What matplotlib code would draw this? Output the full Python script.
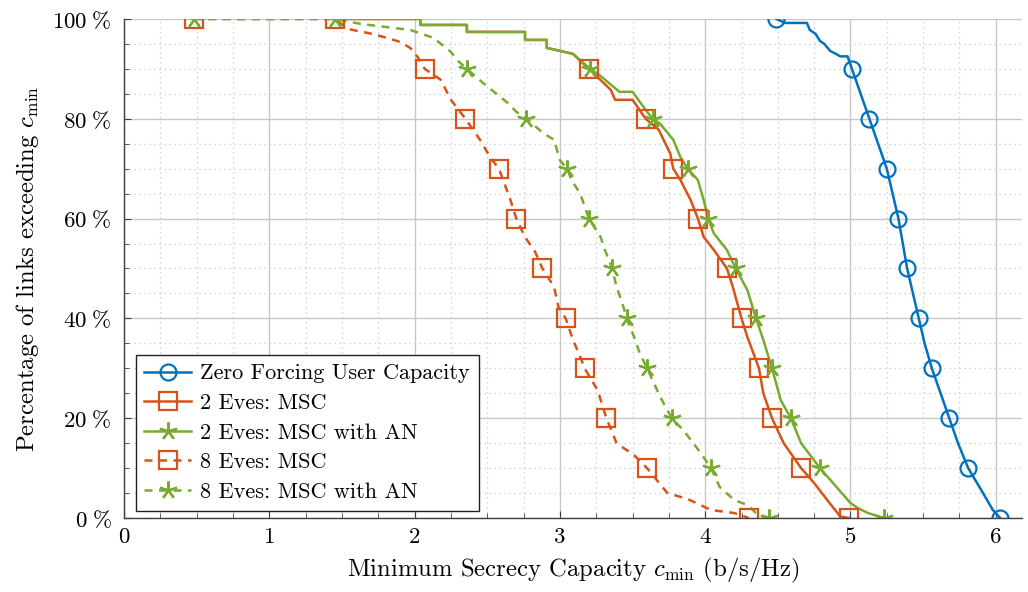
import matplotlib
matplotlib.use("Agg")
import matplotlib.pyplot as plt
from matplotlib.lines import Line2D

plt.rcParams["font.family"] = "cmr10"
plt.rcParams["mathtext.fontset"] = "cm"
plt.rcParams["axes.formatter.use_mathtext"] = True

blue = "#0072BD"
orange = "#D95319"
green = "#77AC30"

# marker positions (every 10 %)
marker_pct = [100, 90, 80, 70, 60, 50, 40, 30, 20, 10, 0]
zf_mark = [4.49, 5.01, 5.13, 5.25, 5.33, 5.39, 5.47, 5.56, 5.68, 5.81, 6.03]
e2_msc_mark = [1.45, 3.20, 3.59, 3.78, 3.95, 4.15, 4.25, 4.37, 4.46, 4.66, 4.99]
e2_an_mark = [1.45, 3.21, 3.64, 3.88, 4.02, 4.21, 4.35, 4.46, 4.59, 4.79, 5.23]
e8_msc_mark = [0.48, 2.07, 2.35, 2.58, 2.70, 2.88, 3.04, 3.17, 3.32, 3.60, 4.30]
e8_an_mark = [0.48, 2.36, 2.77, 3.05, 3.20, 3.36, 3.46, 3.60, 3.77, 4.04, 4.44]

# curves
zf_x = [4.49, 4.55, 4.70, 4.72, 4.76, 4.79, 4.82, 4.86, 4.90, 4.93, 4.98,
        5.01, 5.07, 5.13, 5.19, 5.25, 5.29, 5.33, 5.36, 5.39, 5.43, 5.47,
        5.51, 5.56, 5.62, 5.68, 5.74, 5.81, 5.90, 5.98, 6.03]
zf_y = [100, 99.2, 99.2, 97.8, 97.0, 95.6, 95.0, 93.6, 93.0, 92.5, 92.5,
        90, 85, 80, 75, 70, 65, 60, 55, 50, 45, 40,
        35, 30, 25, 20, 15, 10, 5.6, 1.6, 0]

e2_msc_x = [1.45, 2.04, 2.04, 2.36, 2.36, 2.76, 2.76, 2.91, 2.91, 3.09, 3.20,
            3.35, 3.38, 3.50, 3.59, 3.68, 3.76, 3.78, 3.83, 3.90, 3.95, 3.99,
            4.06, 4.15, 4.19, 4.25, 4.29, 4.37, 4.40, 4.46, 4.54, 4.66, 4.75,
            4.84, 4.93, 4.99]
e2_msc_y = [100, 100, 98.8, 98.8, 97.4, 97.4, 95.8, 95.8, 94.2, 93, 90,
            85.8, 83.8, 83.8, 80, 77.8, 73, 70, 67.7, 63.7, 60, 56.3,
            53.7, 50, 46.3, 40, 36.3, 30, 25, 20, 15, 10, 7,
            3.6, 0.3, 0]

e2_an_x = [1.45, 2.04, 2.04, 2.36, 2.36, 2.76, 2.76, 2.91, 2.91, 3.09, 3.21,
           3.27, 3.41, 3.50, 3.60, 3.64, 3.69, 3.78, 3.83, 3.88, 3.95, 3.99,
           4.02, 4.06, 4.15, 4.21, 4.29, 4.35, 4.40, 4.46, 4.52, 4.59, 4.66,
           4.79, 4.88, 5.00, 5.05, 5.12, 5.23]
e2_an_y = [100, 100, 98.8, 98.8, 97.4, 97.4, 95.8, 95.8, 94.2, 93, 90,
           88.8, 85.4, 85.4, 81.4, 80, 79, 75.8, 72.3, 70, 67.7, 63.7,
           60, 57, 53.7, 50, 45.7, 40, 35.7, 30, 23.6, 20, 15,
           10, 7, 3, 2, 1, 0]

e8_msc_x = [0.48, 1.45, 1.54, 1.71, 1.81, 1.90, 1.97, 2.02, 2.07, 2.18, 2.25,
            2.35, 2.45, 2.52, 2.58, 2.61, 2.66, 2.70, 2.76, 2.83, 2.88, 2.96,
            2.99, 3.04, 3.09, 3.14, 3.17, 3.26, 3.32, 3.39, 3.51, 3.60, 3.74,
            3.88, 4.04, 4.20, 4.30]
e8_msc_y = [100, 100, 98, 97, 96.2, 95.4, 94.2, 92.4, 90, 87.8, 83.8,
            80, 75.8, 72.3, 70, 67.7, 63.7, 60, 56.3, 53.3, 50, 46.3,
            42.3, 40, 35.7, 32.3, 30, 25.6, 20, 15, 12.6, 10, 5,
            3.8, 1.6, 1, 0]

e8_an_x = [0.48, 1.45, 1.63, 1.97, 2.13, 2.25, 2.29, 2.36, 2.47, 2.64, 2.70,
           2.77, 2.89, 2.96, 3.00, 3.05, 3.08, 3.14, 3.20, 3.28, 3.31, 3.36,
           3.39, 3.43, 3.46, 3.51, 3.55, 3.60, 3.69, 3.77, 3.85, 3.97, 4.04,
           4.10, 4.20, 4.29, 4.35, 4.44]
e8_an_y = [100, 100, 99, 97.8, 96.2, 93.4, 91.8, 90, 87.2, 83.2, 81.4,
           80, 77, 75.8, 71.7, 70, 67.7, 65, 60, 56.3, 53.7, 50,
           46.3, 43, 40, 36.3, 33, 30, 24.3, 20, 17.6, 13, 10,
           6.2, 3.6, 2.6, 1, 0]

star = (5, 2, 0)
dash = (0, (3.2, 2.6))
series = [
    ("Zero Forcing User Capacity", zf_x, zf_y, zf_mark, blue, "-", "o"),
    ("2 Eves: MSC", e2_msc_x, e2_msc_y, e2_msc_mark, orange, "-", "s"),
    ("2 Eves: MSC with AN", e2_an_x, e2_an_y, e2_an_mark, green, "-", star),
    ("8 Eves: MSC", e8_msc_x, e8_msc_y, e8_msc_mark, orange, dash, "s"),
    ("8 Eves: MSC with AN", e8_an_x, e8_an_y, e8_an_mark, green, dash, star),
]

fig = plt.figure(figsize=(10.28, 5.92), dpi=100)
ax = fig.add_axes([0.1206, 0.125, 0.8735, 0.843])

handles = []
for label, x, y, mk, col, ls, m in series:
    ms = 13 if m == star else (12.5 if m == "s" else 11.5)
    ax.plot(x, y, color=col, ls=ls, lw=1.8, zorder=3)
    ax.plot(mk, marker_pct, ls="none", marker=m, ms=ms, mfc="none",
            mec=col, mew=1.6, zorder=4)
    handles.append(Line2D([], [], color=col, ls=ls, lw=1.8, marker=m, ms=ms,
                          mfc="none", mec=col, mew=1.6, label=label))

ax.set_xlim(0, 6.18)
ax.set_ylim(0, 100)
ax.set_xticks(range(7))
ax.set_xticklabels([str(v) for v in range(7)])
yt = [0, 20, 40, 60, 80, 100]
ax.set_yticks(yt)
ax.set_yticklabels([r"$%d\;\%%$" % v for v in yt])
ax.set_xticks([v * 0.25 for v in range(25) if v % 4 != 0], minor=True)
ax.set_yticks([v for v in range(0, 101, 5) if v % 20 != 0], minor=True)

ax.grid(True, which="major", color="#c8c8c8", lw=1.0, zorder=0)
ax.grid(True, which="minor", color="#c8c8c8", lw=0.9, ls=(0, (1, 3)), zorder=0)
ax.set_axisbelow(True)

for s in ["top", "right"]:
    ax.spines[s].set_visible(False)
for s in ["left", "bottom"]:
    ax.spines[s].set_color("#404040")
    ax.spines[s].set_linewidth(1.0)
    ax.spines[s].set_zorder(5)

ax.tick_params(which="both", direction="in", color="#404040", labelsize=16.5,
               top=False, right=False)
ax.tick_params(which="major", length=5)
ax.tick_params(axis="y", which="major", pad=9)
ax.tick_params(axis="x", which="major", pad=7)
ax.tick_params(which="minor", length=3.5)

ax.set_xlabel(r"Minimum Secrecy Capacity $c_{\min}$ (b/s/Hz)", fontsize=17.8,
              labelpad=6)
ax.set_ylabel(r"Percentage of links exceeding $c_{\min}$", fontsize=17.8,
              labelpad=8)

leg = ax.legend(handles=handles, loc="lower left", fontsize=16,
                bbox_to_anchor=(0.008, 0.006), fancybox=False, framealpha=1,
                edgecolor="#202020", handlelength=2.1, borderpad=0.4,
                labelspacing=0.45, handletextpad=0.4, borderaxespad=0.2)
leg.get_frame().set_linewidth(1.0)
leg.set_zorder(10)

fig.savefig("out.png", dpi=100)
plt.close(fig)
